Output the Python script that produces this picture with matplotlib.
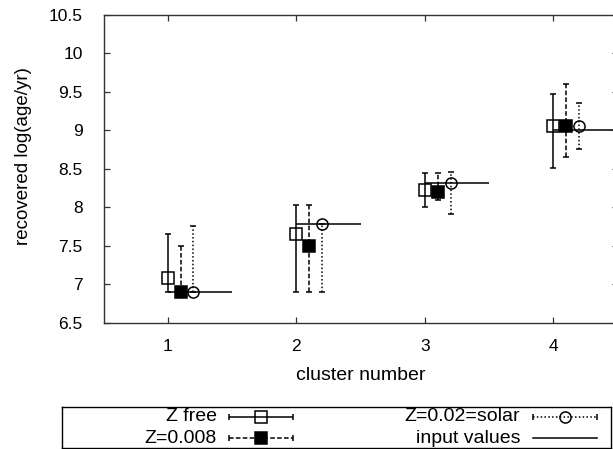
import numpy as np
import matplotlib.pyplot as plt

plt.rcParams['font.family'] = ['Liberation Sans', 'DejaVu Sans']
plt.rcParams['font.size'] = 12

# --- data ---
clusters = np.array([1, 2, 3, 4])

zfree = np.array([7.08, 7.65, 8.22, 9.05])
zfree_lo = np.array([6.90, 6.90, 8.00, 8.51])
zfree_hi = np.array([7.65, 8.03, 8.44, 9.47])

z008 = np.array([6.90, 7.50, 8.20, 9.06])
z008_lo = np.array([6.90, 6.90, 8.09, 8.65])
z008_hi = np.array([7.50, 8.03, 8.45, 9.60])

solar = np.array([6.90, 7.78, 8.31, 9.06])
solar_lo = np.array([6.90, 6.90, 7.91, 8.75])
solar_hi = np.array([7.75, 7.78, 8.46, 9.35])

input_vals = np.array([6.90, 7.78, 8.31, 9.00])

W, H = 613, 449
fig = plt.figure(figsize=(W / 100, H / 100), dpi=100)

# main axes (right border sits just past the image edge, as in the original)
left, right, top, bottom = 103.5, 617.6, 14.7, 322.7
ax = fig.add_axes([left / W, (H - bottom) / H, (right - left) / W, (bottom - top) / H])

lw = 1.1
common = dict(color='black', elinewidth=lw, capsize=2.2, capthick=lw,
              markersize=8, linestyle='none', markeredgewidth=1.1)

e1 = ax.errorbar(clusters, zfree, yerr=[zfree - zfree_lo, zfree_hi - zfree],
                 fmt='s', mfc='none', **common)
e2 = ax.errorbar(clusters + 0.1, z008, yerr=[z008 - z008_lo, z008_hi - z008],
                 fmt='s', mfc='black', **common)
e3 = ax.errorbar(clusters + 0.2, solar, yerr=[solar - solar_lo, solar_hi - solar],
                 fmt='o', mfc='none', **common)
e2[2][0].set_linestyle((0, (3, 1.5)))
e3[2][0].set_linestyle((0, (1, 1.5)))

ax.hlines(input_vals, clusters, clusters + 0.5, color='black', lw=lw)

ax.set_xlim(0.5, 4.5)
ax.set_ylim(6.5, 10.5)
ax.set_xticks(clusters)
ax.set_yticks(np.arange(6.5, 10.51, 0.5))
ax.set_yticklabels(['6.5', '7', '7.5', '8', '8.5', '9', '9.5', '10', '10.5'])
ax.tick_params(direction='in', length=4.5, width=0.9, top=True, right=True,
               color='#333333', labelsize=12.5)
ax.tick_params(axis='y', pad=15)
ax.tick_params(axis='x', pad=12)
for s in ax.spines.values():
    s.set_color('#333333')
    s.set_linewidth(1.0)

ax.set_xlabel('cluster number', fontsize=14)
ax.xaxis.set_label_coords(0.5, -(376 - bottom) / (bottom - top), transform=ax.transAxes)
ax.xaxis.label.set_va('center')
ax.set_ylabel('recovered log(age/yr)', fontsize=13.5)
ax.yaxis.set_label_coords(-(left - 24) / (right - left), (bottom - 156) / (bottom - top))
ax.yaxis.label.set_va('center')

# --- legend box drawn gnuplot style ---
lx0, lx1, ly0, ly1 = 61.8, 611.0, 407.0, 448.0
lax = fig.add_axes([lx0 / W, (H - ly1) / H, (lx1 - lx0) / W, (ly1 - ly0) / H])
lax.set_xlim(lx0, lx1)
lax.set_ylim(ly1, ly0)
lax.set_xticks([])
lax.set_yticks([])
for s in lax.spines.values():
    s.set_linewidth(1.0)

row1, row2 = 416.7, 438.3
c1_text, c1_mid = 217, 261
c2_text, c2_mid = 520, 564.5
half = 32

l1 = lax.errorbar([c1_mid], [row1], xerr=half, fmt='s', mfc='none', **common)
l2 = lax.errorbar([c1_mid], [row2], xerr=half, fmt='s', mfc='black', **common)
l3 = lax.errorbar([c2_mid], [row1], xerr=half, fmt='o', mfc='none', **common)
l2[2][0].set_linestyle((0, (3, 1.5)))
l3[2][0].set_linestyle((0, (1, 1.5)))
for l in (l1, l2, l3):
    for cap in l[1]:
        cap.set_marker('|')
        cap.set_markersize(4)
lax.plot([c2_mid - half, c2_mid + half], [row2, row2], color='black', lw=lw)

fs_leg = 14
lax.text(c1_text, row1, 'Z free', ha='right', va='center', fontsize=fs_leg)
lax.text(c1_text, row2, 'Z=0.008', ha='right', va='center', fontsize=fs_leg)
lax.text(c2_text, row1, 'Z=0.02=solar', ha='right', va='center', fontsize=fs_leg)
lax.text(c2_text, row2, 'input values', ha='right', va='center', fontsize=fs_leg)

fig.savefig('out.png', dpi=100)
